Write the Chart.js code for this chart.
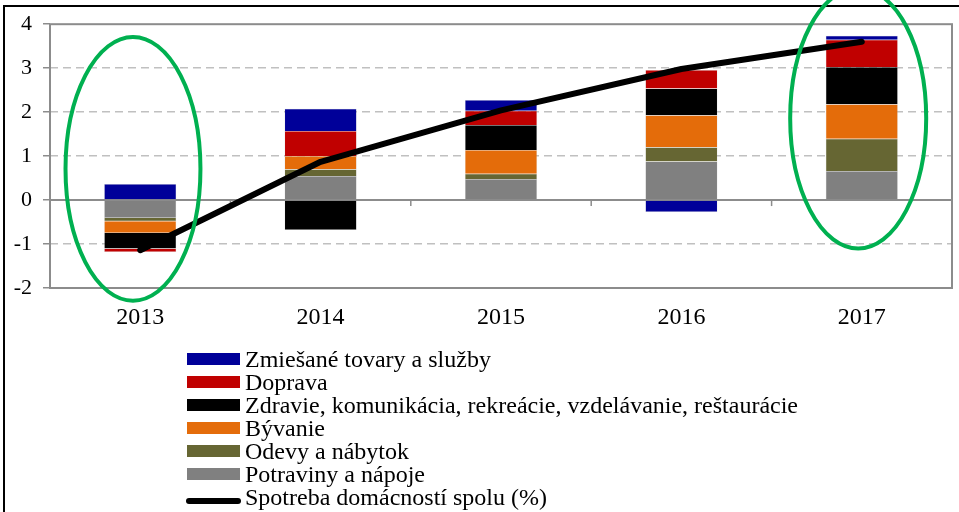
<!DOCTYPE html>
<html><head><meta charset="utf-8">
<script src="https://cdn.jsdelivr.net/npm/chart.js@4"></script>
<style>
html,body{margin:0;padding:0;background:#fff;}
#wrap{position:relative;width:959px;height:512px;overflow:hidden;}
canvas{position:absolute;left:0;top:0;}
#legend{position:absolute;left:187px;top:347.5px;font-family:"Liberation Serif","Times New Roman",serif;font-size:24px;color:#000;}
.row{position:relative;height:23.1px;line-height:23.1px;white-space:nowrap;}
.sw{position:absolute;left:0;top:5.5px;width:53px;height:12px;}
.ln{position:absolute;left:-1px;top:11.5px;width:55px;height:6px;border-radius:3px;background:#000;}
.tx{position:absolute;left:58px;top:0;}
</style></head><body>
<div id="wrap"><canvas id="c" width="959" height="512"></canvas><div id="legend"></div></div>
<script>
// ---- data ----
const years = ['2013', '2014', '2015', '2016', '2017'];
const potraviny = [-0.41, 0.55, 0.48, 0.88, 0.66];
const odevy = [-0.07, 0.15, 0.12, 0.32, 0.735];
const byvanie = [-0.27, 0.30, 0.54, 0.73, 0.785];
const zdravie = [-0.355, -0.68, 0.57, 0.61, 0.845];
const doprava = [-0.075, 0.57, 0.32, 0.42, 0.62];
const zmiesane = [0.365, 0.505, 0.245, -0.27, 0.09];
const spotreba = [-1.14, 0.87, 2.04, 2.98, 3.60];
const yMin = -2, yMax = 4, yStep = 1;
const highlighted = ['2013', '2017'];

const FONT = '"Liberation Serif","Times New Roman",serif';

const barSeries = [
  {label: 'Potraviny a nápoje', data: potraviny, color: '#808080'},
  {label: 'Odevy a nábytok', data: odevy, color: '#666633'},
  {label: 'Bývanie', data: byvanie, color: '#E46C0A'},
  {label: 'Zdravie, komunikácia, rekreácie, vzdelávanie, reštaurácie', data: zdravie, color: '#000000'},
  {label: 'Doprava', data: doprava, color: '#C00000'},
  {label: 'Zmiešané tovary a služby', data: zmiesane, color: '#000099'}
];

const datasets = barSeries.map(s => ({
  type: 'bar', label: s.label, data: s.data, backgroundColor: s.color,
  borderColor: 'rgba(190,190,190,0.6)', borderWidth: 0.5, stack: 'bars', order: 1,
  barPercentage: 0.4, categoryPercentage: 1.0
}));
datasets.push({
  type: 'line', label: 'Spotreba domácností spolu (%)', data: spotreba,
  borderColor: '#000', backgroundColor: '#000', borderWidth: 6, pointRadius: 0,
  tension: 0, stack: 'line', order: 0, borderCapStyle: 'round', borderJoinStyle: 'round'
});

const decor = {
  id: 'decor',
  beforeDraw(chart) {
    const ctx = chart.ctx;
    ctx.save();
    ctx.strokeStyle = '#000'; ctx.lineWidth = 2;
    ctx.beginPath();
    ctx.moveTo(4, 512); ctx.lineTo(4, 6); ctx.lineTo(959, 6);
    ctx.stroke();
    ctx.restore();
  },
  beforeDatasetsDraw(chart) {
    const {ctx, chartArea: a, scales: {x, y}} = chart;
    ctx.save();
    const y0 = y.getPixelForValue(0);
    ctx.strokeStyle = '#8c8c8c'; ctx.lineWidth = 2;
    ctx.beginPath(); ctx.moveTo(a.left, y0); ctx.lineTo(a.right, y0); ctx.stroke();
    ctx.lineWidth = 1.5;
    for (let i = 1; i < years.length; i++) {
      const px = (x.getPixelForValue(i - 1) + x.getPixelForValue(i)) / 2;
      ctx.beginPath(); ctx.moveTo(px, y0); ctx.lineTo(px, y0 + 6); ctx.stroke();
    }
    ctx.lineWidth = 2;
    ctx.strokeRect(a.left, a.top, a.right - a.left, a.bottom - a.top);
    ctx.restore();
  },
  afterDraw(chart) {
    const {ctx, scales: {x, y}} = chart;
    const geo = {'2013': {dx: -0.04, cy: 0.71, rx: 0.374, ry: 3.0},
                 '2017': {dx: -0.02, cy: 1.86, rx: 0.377, ry: 2.96}};
    ctx.save();
    ctx.strokeStyle = '#00B050'; ctx.lineWidth = 4;
    highlighted.forEach(cat => {
      const i = years.indexOf(cat), g = geo[cat];
      const w = x.getPixelForValue(1) - x.getPixelForValue(0);
      const cx = x.getPixelForValue(i) + g.dx * w;
      const cy = y.getPixelForValue(g.cy);
      const rx = g.rx * w;
      const ry = Math.abs(y.getPixelForValue(g.ry) - y.getPixelForValue(0));
      ctx.beginPath(); ctx.ellipse(cx, cy, rx, ry, 0, 0, Math.PI * 2); ctx.stroke();
    });
    ctx.restore();
  }
};

const chart = new Chart(document.getElementById('c'), {
  data: {labels: years, datasets},
  options: {
    responsive: false, animation: false,
    layout: {padding: {left: 0, right: 7, top: 19, bottom: 0}},
    plugins: {legend: {display: false}, tooltip: {enabled: false}},
    scales: {
      x: {
        stacked: true, offset: true,
        grid: {display: false, drawTicks: false},
        border: {display: false},
        ticks: {color: '#000', font: {family: FONT, size: 24}, padding: 15, maxRotation: 0},
        afterFit(s) { s.height = 224; }
      },
      y: {
        stacked: true, min: yMin, max: yMax,
        ticks: {stepSize: yStep, color: '#000', font: {family: FONT, size: 22}, padding: 11},
        grid: {
          color: c => (c.tick && (c.tick.value === 0 || c.tick.value === yMin || c.tick.value === yMax)) ? 'rgba(0,0,0,0)' : '#c0c0c0',
          lineWidth: 1.5, tickLength: 7, tickColor: '#8c8c8c', tickWidth: 1.5
        },
        border: {display: false, dash: [8, 5]},
        afterFit(s) { s.width = 50; }
      }
    }
  },
  plugins: [decor]
});

// HTML legend built from the chart datasets (bars reversed, then line)
const leg = document.getElementById('legend');
const ds = chart.data.datasets;
const order = ds.filter(d => d.type === 'bar').reverse().concat(ds.filter(d => d.type === 'line'));
order.forEach(d => {
  const row = document.createElement('div'); row.className = 'row';
  const sw = document.createElement('span');
  if (d.type === 'line') { sw.className = 'ln'; }
  else { sw.className = 'sw'; sw.style.background = d.backgroundColor; }
  const tx = document.createElement('span'); tx.className = 'tx'; tx.textContent = d.label;
  row.appendChild(sw); row.appendChild(tx); leg.appendChild(row);
});
</script>
</body></html>
